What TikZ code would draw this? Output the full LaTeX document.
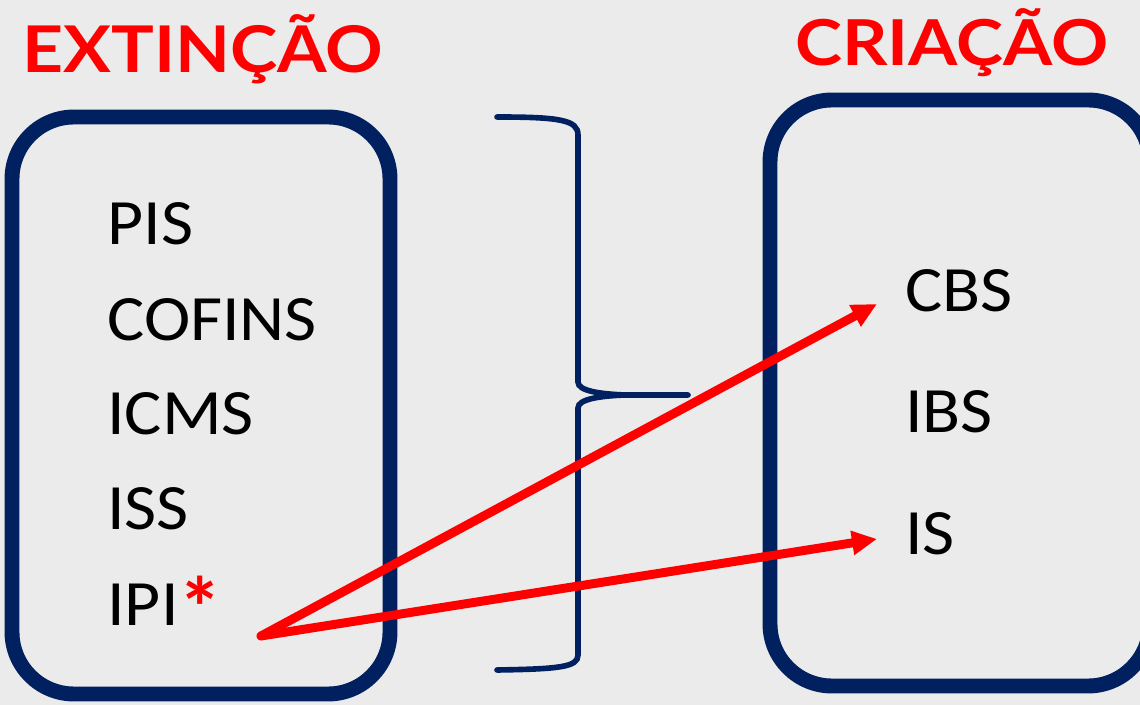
\documentclass[tikz,border=0pt]{standalone}
\usepackage{fontspec}
\setmainfont{Carlito}
\newfontfamily\titlefont{Lato}
\usetikzlibrary{arrows.meta}
\definecolor{navy}{RGB}{0,32,96}
\definecolor{bggray}{RGB}{235,235,235}
\definecolor{pured}{RGB}{255,0,0}
\tikzset{
	boxline/.style={draw=navy, line width=8.5pt, rounded corners=1.24cm},
	braceline/.style={draw=navy, line width=3.2pt, line cap=round},
	item/.style={anchor=base west, inner sep=0pt, font=\fontsize{36.8}{40}\selectfont},
	title/.style={anchor=base west, inner sep=0pt, text=pured, font=\titlefont\bfseries},
	redarrow/.style={draw=pured, line width=5.1pt, line cap=round, -{Triangle[length=0.5cm,width=0.46cm]}}
}
\newcommand{\wide}[1]{\scalebox{1.08}[1]{#1}}

\begin{document}
\begin{tikzpicture}[x=0.02cm, y=-0.02cm]
			%%%%% START %%%%%
			
			\fill[bggray] (0, 0) rectangle (1140, 705);
			\useasboundingbox (0, 0) rectangle (1140, 705);
			
			\node[title] (extincao) at (22, 73) {\resizebox{7.22cm}{1.16cm}{EXTINÇÃO}};
			\node[title] (criacao) at (795, 66) {\resizebox{6.26cm}{1.14cm}{CRIAÇÃO}};
			
			\draw[boxline] (12, 117) rectangle (390, 694);
			\draw[boxline] (770, 100) rectangle (1150, 686);
			
			\node[item] (pis) at (107, 245) {\wide{PIS}};
			\node[item] (cofins) at (107, 341) {\wide{COFINS}};
			\node[item] (icms) at (107, 435) {\wide{ICMS}};
			\node[item] (iss) at (107, 530) {\wide{ISS}};
			\node[item] (ipi) at (107, 626) {\wide{IPI}\raisebox{-7pt}{\textcolor{pured}{\scalebox{1.35}{\textbf{*}}}}};
			
			\node[item] (cbs) at (905, 312) {\wide{CBS}};
			\node[item] (ibs) at (905, 433) {\wide{IBS}};
			\node[item] (is) at (905, 555) {\wide{IS}};
			
			\draw[braceline] (497, 117) .. controls (560, 117) and (578, 120) .. (578, 135) -- (578, 382)
				.. controls (578, 391) and (600, 394) .. (625, 395) -- (688, 395);
			\draw[braceline] (625, 395) .. controls (600, 396) and (578, 399) .. (578, 408) -- (578, 655)
				.. controls (578, 667) and (560, 669) .. (497, 670);
			
			\coordinate (src) at (261, 636);
			\coordinate (tipcbs) at (877, 304);
			\coordinate (tipis) at (877, 539);
			\draw[redarrow] (src) -- (tipcbs);
			\draw[redarrow] (src) -- (tipis);
			
			%%%%% END %%%%%
\end{tikzpicture}
\end{document}
